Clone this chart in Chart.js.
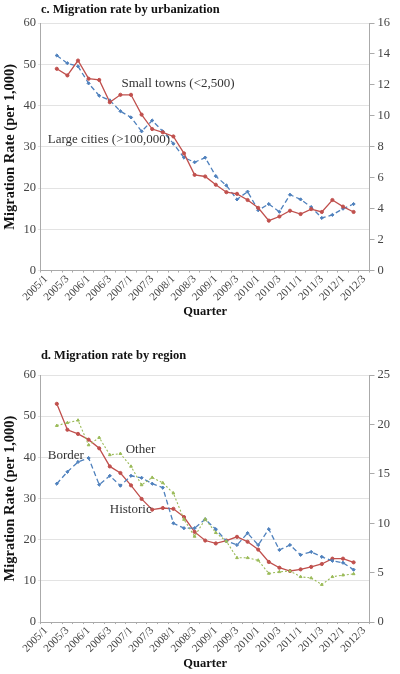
<!DOCTYPE html>
<html>
<head>
<meta charset="utf-8">
<script src="https://cdn.jsdelivr.net/npm/chart.js@4/dist/chart.umd.min.js"></script>
<style>
  html, body { margin: 0; padding: 0; background: #fff; }
  #wrap { position: relative; width: 400px; height: 674px; }
  .box { position: absolute; left: 0; width: 400px; }
</style>
</head>
<body>
<div id="wrap">
  <div class="box" style="top:0;height:335px"><canvas id="graficoUrb"></canvas></div>
  <div class="box" style="top:335px;height:339px"><canvas id="graficoReg"></canvas></div>
</div>
<script>
// quarters (first and last category carry no data)
var trimestres = ["2005/1","2005/2","2005/3","2005/4","2006/1","2006/2","2006/3","2006/4",
  "2007/1","2007/2","2007/3","2007/4","2008/1","2008/2","2008/3","2008/4",
  "2009/1","2009/2","2009/3","2009/4","2010/1","2010/2","2010/3","2010/4",
  "2011/1","2011/2","2011/3","2011/4","2012/1","2012/2","2012/3"];

// c. urbanization
var smallTowns = [null, 48.9, 47.3, 50.9, 46.5, 46.2, 40.8, 42.6, 42.6, 37.8, 34.3, 33.5, 32.5, 28.4, 23.2,
  22.8, 20.8, 19.0, 18.6, 17.1, 15.2, 12.1, 13.1, 14.5, 13.7, 14.9, 14.2, 17.1, 15.5, 14.2, null];
// right axis
var largeCities = [null, 13.9, 13.4, 13.2, 12.1, 11.3, 11.0, 10.3, 9.9, 9.0, 9.7, 9.0, 8.2, 7.3, 7.0,
  7.3, 6.1, 5.5, 4.6, 5.1, 3.9, 4.3, 3.8, 4.9, 4.6, 4.1, 3.4, 3.6, 4.0, 4.3, null];

// d. region
var historic = [null, 53.0, 46.7, 45.7, 44.3, 42.2, 37.8, 36.2, 33.2, 29.9, 27.3, 27.7, 27.5, 25.5, 21.9,
  19.8, 19.1, 19.8, 20.7, 19.5, 17.6, 14.6, 13.2, 12.4, 12.8, 13.4, 14.1, 15.4, 15.4, 14.5, null];
var other = [null, 47.7, 48.4, 49.0, 43.0, 44.8, 40.6, 40.9, 37.8, 33.3, 35.1, 33.8, 31.3, 24.9, 20.8,
  25.0, 21.7, 19.6, 15.6, 15.6, 15.0, 11.8, 12.2, 12.4, 11.0, 10.7, 9.1, 11.0, 11.4, 11.7, null];
// right axis
var border = [null, 14.0, 15.2, 16.2, 16.6, 13.9, 14.8, 13.8, 14.8, 14.6, 14.0, 13.6, 10.0, 9.5, 9.5,
  10.4, 9.4, 8.2, 7.8, 9.0, 7.8, 9.4, 7.3, 7.8, 6.8, 7.1, 6.6, 6.2, 6.0, 5.3, null];

var serif = "'Liberation Serif', 'Times New Roman', serif";
var vermelho = "#c0504d", azul = "#4f81bd", verde = "#9bbb59";

// text notes placed in data coordinates (x = category index, y = left-axis value)
var rotulos = {
  id: "rotulos",
  afterDatasetsDraw: function(chart, args, opts) {
    var ctx = chart.ctx;
    ctx.save();
    ctx.font = "13px " + serif;
    ctx.fillStyle = "#333";
    ctx.textAlign = "left";
    ctx.textBaseline = "middle";
    (opts.itens || []).forEach(function(r) {
      ctx.fillText(r.texto, chart.scales.x.getPixelForValue(r.x), chart.scales.y.getPixelForValue(r.y));
    });
    ctx.restore();
  }
};

function serie(label, data, cor, eixo, tracejado, ponto, largura) {
  return {
    label: label, data: data, yAxisID: eixo,
    borderColor: cor, backgroundColor: cor,
    borderWidth: largura, borderDash: tracejado,
    pointStyle: ponto, pointRadius: 1.6, pointHoverRadius: 1.6, pointBorderWidth: 1,
    tension: 0, spanGaps: false
  };
}

function criarGrafico(id, titulo, datasets, maxDireita, passoDireita, itens, pad) {
  var ctx = document.getElementById(id).getContext("2d");
  return new Chart(ctx, {
    type: "line",
    data: { labels: trimestres, datasets: datasets },
    plugins: [rotulos],
    options: {
      responsive: true,
      maintainAspectRatio: false,
      animation: false,
      layout: { padding: { left: 0, right: 7, top: 0, bottom: pad.fundo } },
      plugins: {
        legend: { display: false },
        tooltip: { enabled: false },
        title: {
          display: true, text: titulo, align: "start", fullSize: false,
          color: "#111", font: { family: serif, size: 12.5, weight: "bold" },
          padding: { top: pad.topo, bottom: pad.abaixo }
        },
        rotulos: { itens: itens }
      },
      scales: {
        x: {
          offset: true,
          grid: { display: true, drawOnChartArea: false, offset: true, tickLength: 2, color: "#aaa" },
          border: { color: "#aaa" },
          ticks: {
            autoSkip: false, maxRotation: 45, minRotation: 45, padding: 0,
            color: "#444", font: { family: serif, size: 11 },
            callback: function(v, i) { return i % 2 === 0 ? trimestres[i] : ""; }
          },
          title: { display: true, text: "Quarter", color: "#111", font: { family: serif, size: 12.5, weight: "bold" }, padding: { top: 1, bottom: 3 } }
        },
        y: {
          position: "left", min: 0, max: 60,
          grid: { color: "#e3e3e3", tickLength: 3 },
          border: { color: "#aaa" },
          ticks: { stepSize: 10, color: "#444", font: { family: serif, size: 12.5 }, padding: 2 },
          title: { display: true, text: "Migration Rate (per 1,000)", color: "#111", font: { family: serif, size: 14.5, weight: "bold" }, padding: { top: 2, bottom: 2 } }
        },
        y1: {
          position: "right", min: 0, max: maxDireita,
          grid: { drawOnChartArea: false, color: "#aaa", tickLength: 5 },
          border: { color: "#aaa" },
          ticks: { stepSize: passoDireita, color: "#444", font: { family: serif, size: 12.5 }, padding: 3 }
        }
      }
    }
  });
}

document.addEventListener("DOMContentLoaded", function() {
  criarGrafico("graficoUrb", "c. Migration rate by urbanization", [
    serie("Small towns (<2,500)", smallTowns, vermelho, "y", [], "circle", 1.3),
    serie("Large cities (>100,000)", largeCities, azul, "y1", [5, 3], "rectRot", 1.3)
  ], 16, 2, [
    { texto: "Small towns (<2,500)", x: 7.1, y: 45.3 },
    { texto: "Large cities (>100,000)", x: 0.15, y: 31.8 }
  ], { topo: 2.5, abaixo: 5.5, fundo: 12.5 });

  criarGrafico("graficoReg", "d. Migration rate by region", [
    serie("Other", other, verde, "y", [2, 2], "triangle", 1.1),
    serie("Border", border, azul, "y1", [5, 3], "rectRot", 1.3),
    serie("Historic", historic, vermelho, "y", [], "circle", 1.3)
  ], 25, 5, [
    { texto: "Border", x: 0.15, y: 40.4 },
    { texto: "Other", x: 7.5, y: 41.8 },
    { texto: "Historic", x: 6.0, y: 27.3 }
  ], { topo: 13.5, abaixo: 11.5, fundo: 0 });
});
</script>
</body>
</html>
